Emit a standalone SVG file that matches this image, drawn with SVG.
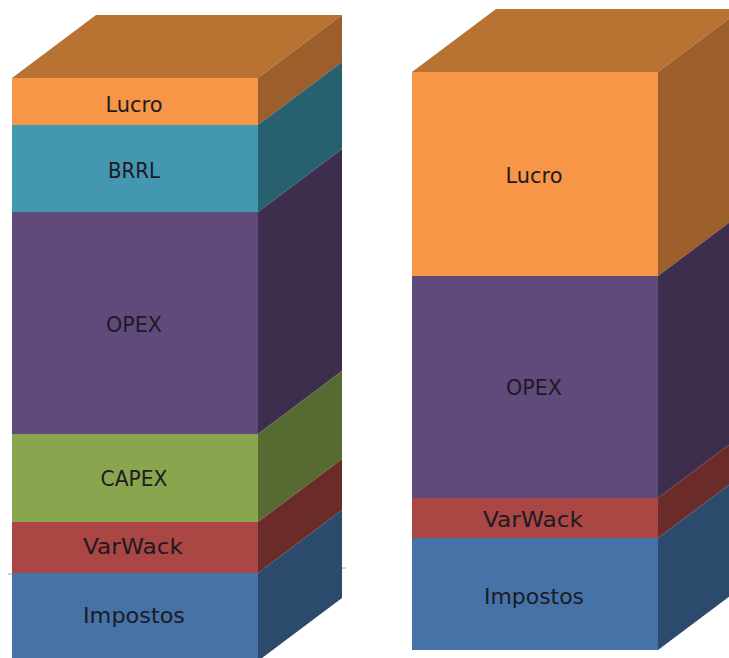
<svg xmlns="http://www.w3.org/2000/svg" width="729" height="658" viewBox="0 0 729 658">
<style>
.lbl{font-family:"DejaVu Sans","Open Sans",sans-serif;font-size:20.5px;fill:#1e1a24;text-anchor:middle}
.top{fill:#B87333}
.lucro{fill:#F79646}.lucro-s{fill:#9C5E2B}
.brrl{fill:#4397B0}.brrl-s{fill:#276170}
.opex{fill:#604A7B}.opex-s{fill:#3D2E4E}
.capex{fill:#89A54E}.capex-s{fill:#566A31}
.var{fill:#AA4643}.var-s{fill:#6B2B29}
.imp{fill:#4572A7}.imp-s{fill:#2C4A6C}
</style>
<rect width="729" height="658" fill="#FFFFFF"/>
<g id="connectors">
<line x1="8" y1="574" x2="346" y2="568" stroke="#A6A6A6" stroke-width="1.2"/>
</g>
<g id="col-left">
<polygon class="top" points="12,78 96,15 342,15 258,78"/>
<g id="L-lucro"><rect class="lucro" x="12" y="78" width="246" height="47"/><polygon class="lucro-s" points="258,78 342,15 342,62 258,125"/><text class="lbl" x="134" y="112" textLength="57" lengthAdjust="spacingAndGlyphs">Lucro</text></g>
<g id="L-brrl"><rect class="brrl" x="12" y="125" width="246" height="87"/><polygon class="brrl-s" points="258,125 342,62 342,149 258,212"/><text class="lbl" x="134" y="178" textLength="52" lengthAdjust="spacingAndGlyphs">BRRL</text></g>
<g id="L-opex"><rect class="opex" x="12" y="212" width="246" height="222"/><polygon class="opex-s" points="258,212 342,149 342,371 258,434"/><text class="lbl" x="134" y="332" textLength="56" lengthAdjust="spacingAndGlyphs">OPEX</text></g>
<g id="L-capex"><rect class="capex" x="12" y="434" width="246" height="88"/><polygon class="capex-s" points="258,434 342,371 342,459 258,522"/><text class="lbl" x="134" y="486" textLength="67" lengthAdjust="spacingAndGlyphs">CAPEX</text></g>
<g id="L-varwack"><rect class="var" x="12" y="522" width="246" height="51"/><polygon class="var-s" points="258,522 342,459 342,510 258,573"/><text class="lbl" x="133" y="554" textLength="100" lengthAdjust="spacingAndGlyphs">VarWack</text></g>
<g id="L-impostos"><rect class="imp" x="12" y="573" width="246" height="88"/><polygon class="imp-s" points="258,573 342,510 342,598 258,661"/><text class="lbl" x="134" y="623" textLength="102" lengthAdjust="spacingAndGlyphs">Impostos</text></g>
</g>
<g id="col-right">
<polygon class="top" points="412,72 496,9 742,9 658,72"/>
<g id="R-lucro"><rect class="lucro" x="412" y="72" width="246" height="204"/><polygon class="lucro-s" points="658,72 742,9 742,213 658,276"/><text class="lbl" x="534" y="183" textLength="57" lengthAdjust="spacingAndGlyphs">Lucro</text></g>
<g id="R-opex"><rect class="opex" x="412" y="276" width="246" height="222"/><polygon class="opex-s" points="658,276 742,213 742,435 658,498"/><text class="lbl" x="534" y="395" textLength="56" lengthAdjust="spacingAndGlyphs">OPEX</text></g>
<g id="R-varwack"><rect class="var" x="412" y="498" width="246" height="40"/><polygon class="var-s" points="658,498 742,435 742,475 658,538"/><text class="lbl" x="533" y="527" textLength="100" lengthAdjust="spacingAndGlyphs">VarWack</text></g>
<g id="R-impostos"><rect class="imp" x="412" y="538" width="246" height="112"/><polygon class="imp-s" points="658,538 742,475 742,587 658,650"/><text class="lbl" x="534" y="604" textLength="100" lengthAdjust="spacingAndGlyphs">Impostos</text></g>
</g>
</svg>
